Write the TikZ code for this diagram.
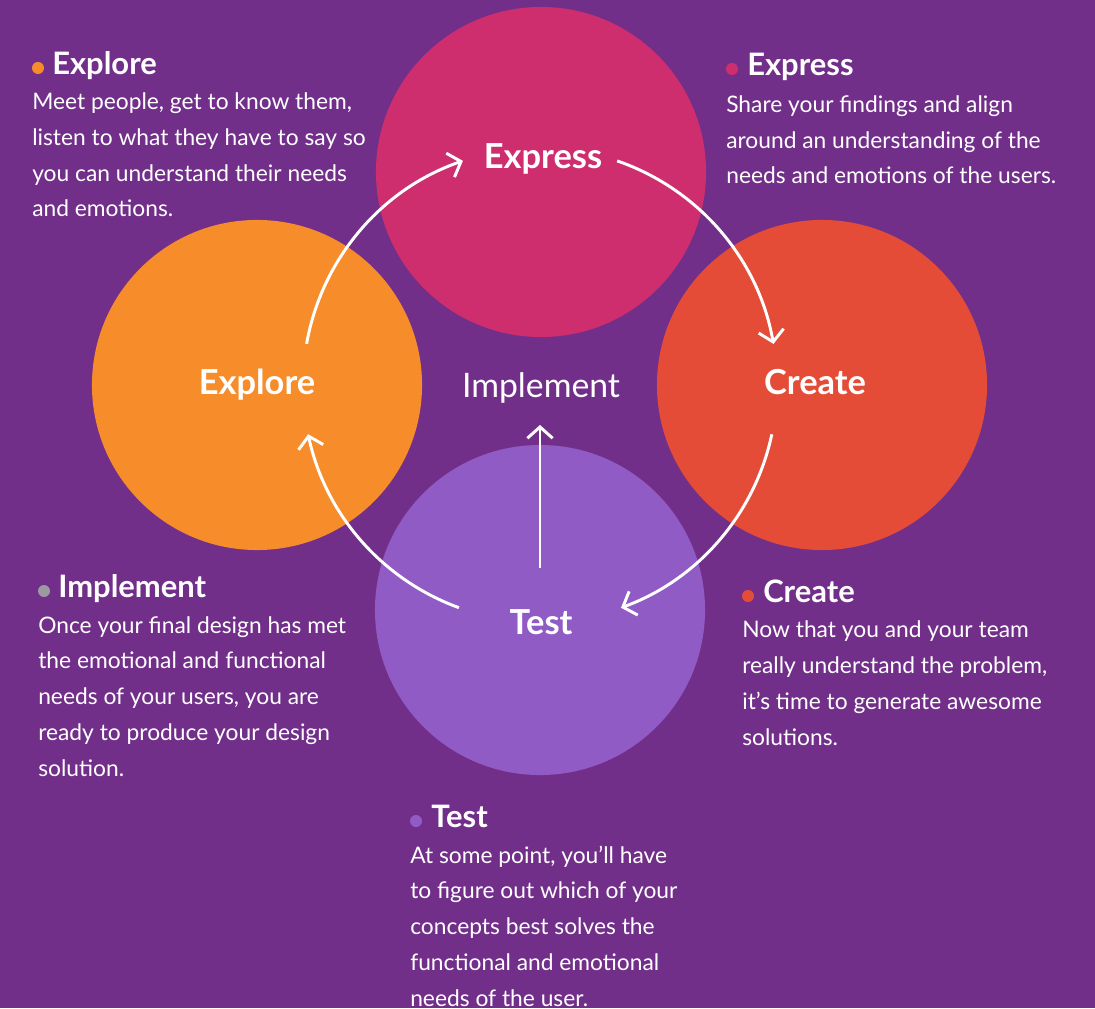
\documentclass[tikz,border=0pt]{standalone}
\usepackage{fontspec}
\setmainfont{Lato}
\usetikzlibrary{arrows.meta}

\definecolor{bgpurple}{HTML}{722F8A}
\definecolor{expresspink}{HTML}{CE2E6E}
\definecolor{exploreorange}{HTML}{F78C2A}
\definecolor{createred}{HTML}{E44C37}
\definecolor{testlilac}{HTML}{905BC4}
\definecolor{implgray}{HTML}{9A9AA0}

\begin{document}
\begin{tikzpicture}[x=0.025cm,y=0.025cm,
    disc/.style={circle,minimum size=8.25cm,inner sep=0pt},
    big/.style={text=white,font=\fontsize{24.5}{28}\selectfont\bfseries,anchor=base,inner sep=0pt},
    flow/.style={white,line width=2.1pt,-{Straight Barb[length=8pt,width=18pt]}},
    head/.style={text=white,font=\fontsize{22}{26}\selectfont\bfseries,anchor=base west,inner sep=0pt},
    body/.style={text=white,font=\fontsize{16.2}{25.4}\selectfont,anchor=base west,align=left,inner sep=0pt},
    dot/.style={circle,inner sep=0pt,minimum size=0.3cm}]
        \fill[bgpurple] (0,0) rectangle (1095,1008);
        \useasboundingbox (0,0) rectangle (1095,1008);
        % the four phases
        \node[disc,fill=expresspink](express)at(541,836){};
        \node[disc,fill=exploreorange](explore)at(257,623){};
        \node[disc,fill=createred](create)at(822,623){};
        \node[disc,fill=testlilac](test)at(540,398){};
        \node[big](lexpress)at(543,839){Express};
        \node[big](lexplore)at(257,613){Explore};
        \node[big](lcreate)at(815,613){Create};
        \node[big](ltest)at(541,374){Test};
        \node[big,font=\fontsize{24}{28}\selectfont](limpl)at(541,610){Implement};
        % cycle arrows
        \coordinate (hub) at (540,623);
        \path (hub) ++(170:237) coordinate (a1);
        \path (hub) ++(71:237) coordinate (a2);
        \path (hub) ++(-12:237) coordinate (a3);
        \path (hub) ++(-110:237) coordinate (a4);
        \draw[flow](a1) arc[start angle=170,end angle=109,radius=5.925cm];
        \draw[flow](a2) arc[start angle=71,end angle=10,radius=5.925cm];
        \draw[flow](a3) arc[start angle=-12,end angle=-70,radius=5.925cm];
        \draw[flow](a4) arc[start angle=-110,end angle=-168,radius=5.925cm];
        \coordinate (up0) at (540,440);
        \coordinate (up1) at (540,583);
        \draw[flow](up0)--(up1);
        % side notes (body anchored at its last line)
        \node[dot,fill=exploreorange](dexplore)at(38,940){};
        \node[head](hexplore)at(52,933){Explore};
        \node[body](bexplore)at(32,791){Meet people, get to know them,\\listen to what they have to say so\\you can understand their needs\\and emotions.};
        \node[dot,fill=expresspink](dexpress)at(732,939){};
        \node[head](hexpress)at(747,932){Express};
        \node[body](bexpress)at(726,824){Share your findings and align\\around an understanding of the\\needs and emotions of the users.};
        \node[dot,fill=implgray](dimpl)at(44,417){};
        \node[head](himpl)at(58,411){Implement};
        \node[body](bimpl)at(38,232){Once your final design has met\\the emotional and functional\\needs of your users, you are\\ready to produce your design\\solution.};
        \node[dot,fill=createred](dcreate)at(748,412){};
        \node[head](hcreate)at(763,406){Create};
        \node[body](bcreate)at(742,263){Now that you and your team\\really understand the problem,\\it’s time to generate awesome\\solutions.};
        \node[dot,fill=testlilac](dtest)at(416,187){};
        \node[head](htest)at(431,181){Test};
        \node[body](btest)at(410,2){At some point, you’ll have\\to figure out which of your\\concepts best solves the\\functional and emotional\\needs of the user.};
    \end{tikzpicture}
\end{document}
